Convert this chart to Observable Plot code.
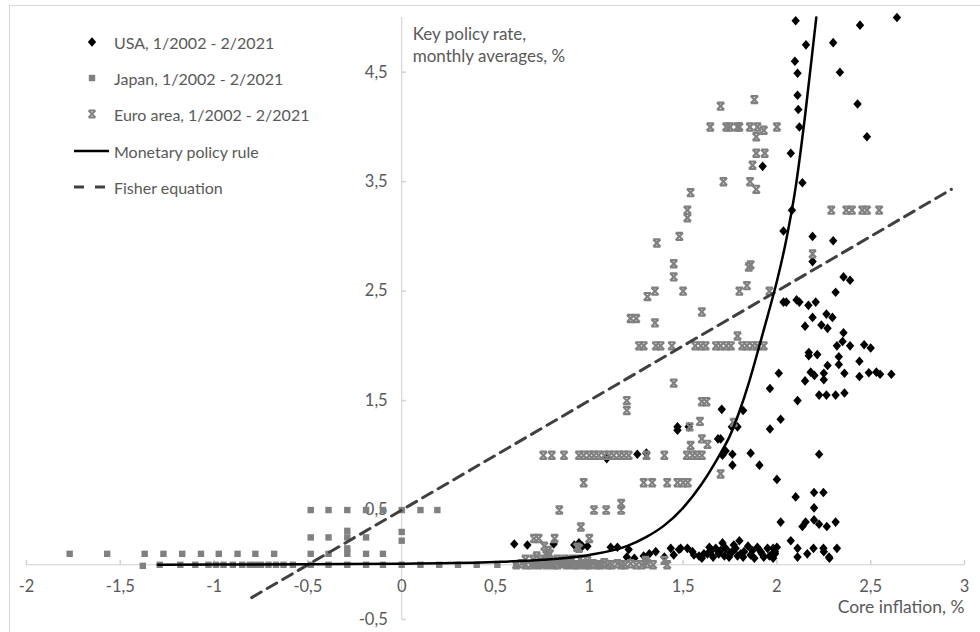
<!DOCTYPE html>
<html><head><meta charset="utf-8">
<script src="https://cdn.jsdelivr.net/npm/d3@7"></script>
<script src="https://cdn.jsdelivr.net/npm/@observablehq/plot@0.6"></script>
<style>
body{margin:0;background:#fff;}
#wrap{position:relative;width:980px;height:632px;overflow:hidden;font-family:Lato,sans-serif;color:#595959;}
#frame{position:absolute;left:9px;top:5px;width:1200px;height:800px;border-left:1px solid #d9d9d9;border-top:1px solid #d9d9d9;}
#chart{position:absolute;left:0;top:0;}
.lg{position:absolute;left:70px;height:24px;display:flex;align-items:center;font-size:16px;white-space:nowrap;}
.lg svg{width:44px;height:24px;flex:none;}
</style>
</head><body>
<div id="wrap"><div id="frame"></div><div id="chart"></div><div id="legend"></div></div>
<script>
// ---- data ----
const xTicks = [-2, -1.5, -1, -0.5, 0, 0.5, 1, 1.5, 2, 2.5, 3];
const yTicks = [-0.5, 0.5, 1.5, 2.5, 3.5, 4.5];
const seriesNames = ["USA, 1/2002 - 2/2021", "Japan, 1/2002 - 2/2021", "Euro area, 1/2002 - 2/2021", "Monetary policy rule", "Fisher equation"];
const yTitle = "Key policy rate,\nmonthly averages, %";
const xTitle = "Core inflation, %";

const usa = [
[2.10,4.97],[2.443,4.93],[2.64,5.0],[2.155,4.75],[2.30,4.77],[2.096,4.60],[2.11,4.49],[2.336,4.50],[2.11,4.29],[2.114,4.16],
[2.43,4.21],[2.12,4.0],[2.48,3.91],[2.074,3.76],[1.924,3.64],[2.136,3.49],[2.08,3.24],[2.035,3.05],[2.19,3.0],[2.30,2.96],
[2.19,2.77],[2.355,2.63],[2.39,2.60],[2.313,2.49],[2.035,2.40],[2.05,2.40],[2.105,2.42],[2.12,2.40],[2.168,2.37],[2.207,2.40],
[2.19,2.26],[2.264,2.29],[2.296,2.26],[2.15,2.18],[2.237,2.19],[2.27,2.16],[2.355,2.12],[2.35,2.04],[2.32,2.0],[2.39,2.0],
[2.465,2.01],[2.50,1.98],[2.17,1.94],[2.17,1.91],[2.215,1.92],[2.33,1.90],[2.27,1.82],[2.33,1.83],[2.44,1.86],[2.01,1.75],
[2.18,1.76],[2.20,1.73],[2.25,1.75],[2.25,1.69],[2.36,1.75],[2.44,1.72],[2.49,1.755],[2.53,1.76],[2.55,1.74],[2.61,1.74],
[2.15,1.68],[2.225,1.55],[2.264,1.55],[2.313,1.55],[2.36,1.57],[1.963,1.61],[2.11,1.50],[1.706,1.42],[1.82,1.41],[2.02,1.33],
[1.963,1.24],[1.76,1.26],[1.79,1.26],[1.47,1.26],[1.47,1.23],[1.53,1.26],[1.686,1.15],[1.70,1.15],[1.727,1.04],[1.71,1.0],
[1.763,1.01],[1.763,0.91],[1.86,1.02],[1.907,0.91],[2.0,0.78],[2.225,1.01],[2.10,0.62],[2.198,0.66],[2.248,0.66],[2.198,0.52],
[2.02,0.39],[2.136,0.35],[2.153,0.39],[2.198,0.41],[2.225,0.37],[2.266,0.35],[2.313,0.39],[2.074,0.22],[2.11,0.15],[2.195,0.15],
[2.11,0.07],[2.162,0.10],[2.248,0.15],[2.25,0.12],[2.278,0.07],[2.28,0.06],[2.32,0.15],[1.98,0.15],[1.99,0.10],[1.256,1.01],
[1.304,1.02],[1.093,0.97],
[0.60,0.19],[0.67,0.18],[0.81,0.19],[0.92,0.18],[0.945,0.20],[0.963,0.17],[0.99,0.17],[1.114,0.16],[1.15,0.16],[1.21,0.14],
[1.20,0.07],[1.24,0.06],[1.29,0.08],[1.32,0.10],[1.354,0.12],[1.40,0.07],[1.434,0.15],[1.45,0.09],[1.487,0.15],[1.478,0.14],
[1.523,0.15],[1.558,0.09],[1.585,0.08],[1.611,0.10],[1.63,0.10],[1.647,0.12],[1.674,0.15],[1.69,0.10],[1.71,0.20],[1.727,0.15],
[1.745,0.07],[1.763,0.12],[1.78,0.15],[1.80,0.22],[1.807,0.10],[1.825,0.12],[1.846,0.17],[1.86,0.09],[1.896,0.16],[1.914,0.12],
[1.93,0.07],[1.95,0.15],[1.976,0.10],[1.99,0.12],[2.0,0.16],[1.55,0.12],[1.60,0.06],[1.66,0.07],[1.70,0.13],[1.72,0.08],
[1.75,0.11],[1.79,0.08],[1.82,0.07],[1.87,0.13],[1.92,0.10],[1.96,0.08],[1.98,0.06],[1.64,0.16],[1.77,0.18],[1.88,0.06]
];

const japan = [
[-1.77,0.1],[-1.57,0.1],[-1.37,0.1],[-1.27,0.1],[-1.17,0.1],[-1.07,0.1],[-0.975,0.1],[-0.875,0.1],[-0.78,0.1],[-0.68,0.1],
[-0.485,0.1],[-0.39,0.1],[-0.29,0.1],[-0.19,0.1],[-0.1,0.1],
[-0.485,0.25],[-0.39,0.25],[-0.29,0.31],[-0.29,0.25],[-0.29,0.15],[-0.19,0.25],[0.0,0.30],[0.0,0.22],
[-0.485,0.5],[-0.39,0.5],[-0.29,0.5],[-0.19,0.5],[-0.1,0.5],[0.0,0.5],[0.1,0.5],[0.19,0.5],
[-1.38,-0.01],[-1.29,0.0],[-1.18,0.0],[-1.10,0.0],[-1.03,0.0],[-0.99,0.0],[-0.95,0.0],[-0.90,0.0],[-0.85,0.0],[-0.81,0.0],
[-0.78,0.0],[-0.75,0.0],[-0.71,0.0],[-0.67,0.0],[-0.63,0.0],[-0.58,0.0],[-0.485,0.0],[-0.39,0.0],[-0.29,0.0],[-0.19,0.0],
[-0.1,0.0],[0.0,0.0],[0.1,0.0],[0.2,0.0],[0.3,0.0],[0.4,0.0],[0.51,0.0],[0.61,0.0],[0.72,-0.01],[0.76,0.0],
[0.80,-0.01],[0.85,0.0],[0.90,-0.01],[0.95,0.0],[1.0,-0.01],[1.05,0.0]
];

const euro = [
[0.755,1.0],[0.80,1.0],[0.865,1.0],[0.945,1.0],[0.97,1.0],[1.0,1.0],[1.025,1.0],[1.05,1.0],[1.08,1.0],[1.105,1.0],
[1.13,1.0],[1.16,1.0],[1.185,1.0],[1.21,1.0],[1.305,1.0],[1.40,1.0],[1.52,1.0],[1.55,1.0],[1.575,1.0],[1.60,1.0],
[0.97,0.75],[1.29,0.75],[1.335,0.75],[1.415,0.75],[1.47,0.75],[1.50,0.75],[1.525,0.75],
[0.84,0.5],[1.025,0.5],[1.09,0.5],[1.17,0.5],[1.17,0.56],
[0.705,0.24],[0.73,0.24],[0.815,0.24],[1.0,0.24],[0.955,0.345],[0.76,0.17],[0.78,0.13],[0.77,0.09],[0.935,0.16],[0.945,0.15],
[1.265,2.0],[1.29,2.0],[1.355,2.0],[1.38,2.0],[1.44,2.0],[1.565,2.0],[1.595,2.0],[1.62,2.0],[1.675,2.0],[1.70,2.0],
[1.73,2.0],[1.755,2.0],[1.815,2.0],[1.84,2.0],[1.87,2.0],[1.895,2.0],[1.93,2.0],
[1.22,2.25],[1.25,2.25],[1.35,2.21],[1.31,2.45],[1.35,2.5],[1.50,2.5],[1.45,1.66],[1.45,2.63],[1.45,2.75],[1.2,1.5],[1.2,1.41],
[1.54,3.40],[1.523,3.24],[1.523,3.17],[1.48,3.0],[1.36,2.94],[1.60,2.31],[1.715,3.5],[1.857,3.5],[1.89,3.43],[2.19,2.84],
[1.86,2.74],[1.85,2.72],[1.84,2.55],[1.80,2.5],[1.96,2.5],[1.79,2.09],[1.60,1.49],[1.625,1.49],[1.59,1.31],[1.535,1.26],[1.77,1.30],
[2.29,3.24],[2.37,3.24],[2.40,3.24],[2.455,3.24],[2.48,3.24],[2.545,3.24],
[1.88,4.25],[1.70,4.19],[1.645,4.0],[1.73,4.0],[1.75,4.0],[1.79,4.0],[1.80,4.0],[1.856,4.0],[1.896,4.0],[2.0,4.0],[1.93,3.97],
[1.89,3.91],[1.89,3.76],[1.935,3.76],[1.87,3.65],[1.60,1.15],[1.63,1.10],[1.54,1.09],[1.70,0.83],[1.40,0.04],[1.415,0.0],[1.30,0.04],[0.99,0.04],
[0.61,0.0],[0.64,0.01],[0.66,0.0],[0.69,0.0],[0.71,0.01],[0.73,0.0],[0.75,0.02],[0.77,0.0],[0.79,0.01],[0.81,0.0],
[0.83,0.0],[0.86,0.01],[0.88,0.0],[0.90,0.02],[0.92,0.0],[0.94,0.0],[0.96,0.01],[0.98,0.0],[1.00,0.0],[1.02,0.01],
[1.04,0.0],[1.06,0.0],[1.08,0.02],[1.10,0.0],[1.12,0.0],[1.15,0.01],[1.17,0.0],[1.19,0.0],[1.22,0.01],[1.25,0.0],
[1.28,0.0],[1.31,0.01],[1.34,0.0],
[0.66,0.05],[0.70,0.05],[0.74,0.05],[0.78,0.05],[0.83,0.05],[0.87,0.05],[0.91,0.05],[0.95,0.05],[0.72,0.08],[0.79,0.10]
];

const policyRule = [
[-1.3,0.0],[-0.5,0.005],[0.0,0.01],[0.5,0.025],[0.75,0.045],[1.0,0.09],[1.2,0.17],[1.3,0.25],[1.4,0.36],[1.5,0.52],
[1.6,0.74],[1.7,1.02],[1.75,1.18],[1.8,1.4],[1.85,1.66],[1.9,1.96],[1.95,2.27],[2.0,2.59],[2.05,2.97],[2.1,3.45],
[2.15,4.1],[2.2,4.85],[2.21,5.0]
];
const fisher = [[-0.8,-0.3],[2.93,3.43]];

// ---- helpers ----
const fmt = d => String(d).replace(".", ",");
const grayMarker = "#808080";
const diamondSym = {draw(c){c.moveTo(0,-4.8);c.lineTo(4.2,0);c.lineTo(0,4.8);c.lineTo(-4.2,0);c.closePath();}};
const squareSym = {draw(c){c.rect(-3.2,-3.2,6.4,6.4);}};
const hourSym = {draw(c){const s=3.6;c.moveTo(-s,-s);c.lineTo(s,s);c.moveTo(s,-s);c.lineTo(-s,s);c.moveTo(-s,-s);c.lineTo(s,-s);c.moveTo(-s,s);c.lineTo(s,s);}};
const yTickSym = {draw(c){c.moveTo(0,0);c.lineTo(4,0);}};
const xTickSym = {draw(c){c.moveTo(0,0);c.lineTo(0,-5);}};
const axisColor = "#d0d0d0";

const chart = Plot.plot({
  width: 980, height: 632,
  marginLeft: 26, marginRight: 16, marginTop: 17, marginBottom: 13,
  x: {domain: [-2, 3], axis: null},
  y: {domain: [-0.5, 5], axis: null},
  style: {fontFamily: "Lato, sans-serif", fontSize: "16.5px", color: "#595959", background: "transparent", overflow: "visible"},
  marks: [
    Plot.ruleY([0], {x1: -2, x2: 3, stroke: axisColor}),
    Plot.ruleX([0], {y1: -0.5, y2: 5, stroke: axisColor}),
    Plot.dot(xTicks, {x: d => d, y: () => 0, symbol: xTickSym, stroke: axisColor, fill: "none"}),
    Plot.dot(yTicks, {x: () => 0, y: d => d, symbol: yTickSym, stroke: axisColor, fill: "none"}),
    Plot.text(xTicks, {x: d => d, y: () => 0, text: fmt, dy: 22, fill: "#595959"}),
    Plot.text(yTicks, {x: () => 0, y: d => d, text: fmt, textAnchor: "end", dx: -14, fill: "#595959"}),
    Plot.text([yTitle], {x: () => 0, y: () => 5, text: d => d, textAnchor: "start", lineAnchor: "top", dx: 11, dy: 7, lineHeight: 1.3, fontSize: 17, fill: "#595959"}),
    Plot.text([xTitle], {x: () => 3, y: () => -0.5, text: d => d, textAnchor: "end", dy: -12, fontSize: 17.5, fill: "#595959"}),
    Plot.dot(usa, {x: d => d[0], y: d => d[1], symbol: diamondSym, fill: "#000", stroke: "none"}),
    Plot.dot(japan, {x: d => d[0], y: d => d[1], symbol: squareSym, fill: grayMarker, stroke: "none"}),
    Plot.dot(euro, {x: d => d[0], y: d => d[1], symbol: hourSym, fill: "none", stroke: grayMarker, strokeWidth: 2.2}),
    Plot.line(fisher, {x: d => d[0], y: d => d[1], stroke: "#404040", strokeWidth: 3, strokeDasharray: "11,7"}),
    Plot.line(policyRule, {x: d => d[0], y: d => d[1], stroke: "#000", strokeWidth: 2.5, curve: "monotone-x"})
  ]
});
document.getElementById("chart").appendChild(chart);

// ---- legend ----
const legendIcons = [
  '<path d="M22,7.2L26.2,12L22,16.8L17.8,12Z" fill="#000"/>',
  '<rect x="18.8" y="8.8" width="6.4" height="6.4" fill="' + grayMarker + '"/>',
  '<path d="M18.6,8.6L25.4,15.4M25.4,8.6L18.6,15.4M18.6,8.6H25.4M18.6,15.4H25.4" stroke="' + grayMarker + '" stroke-width="2" fill="none"/>',
  '<line x1="4" y1="12" x2="39" y2="12" stroke="#000" stroke-width="2.5"/>',
  '<line x1="4" y1="12" x2="39" y2="12" stroke="#404040" stroke-width="3" stroke-dasharray="10,11"/>'
];
const legendRowCenters = [42, 78, 114, 151, 187];
const lg = document.getElementById("legend");
seriesNames.forEach((name, i) => {
  const row = document.createElement("div");
  row.className = "lg";
  row.style.top = (legendRowCenters[i] - 12) + "px";
  row.innerHTML = '<svg viewBox="0 0 44 24">' + legendIcons[i] + '</svg><span>' + name + '</span>';
  lg.appendChild(row);
});
</script>
</body></html>
